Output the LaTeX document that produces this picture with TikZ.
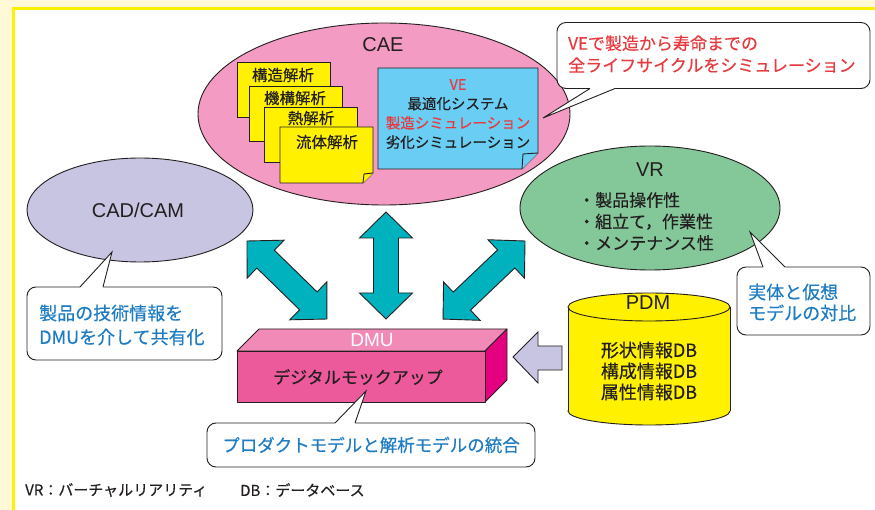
\documentclass[tikz,border=0pt]{standalone}
\usepackage{fontspec}
\setmainfont{Liberation Sans}
\newfontfamily\jp[FakeBold=0.35]{Noto Sans CJK JP}
\usetikzlibrary{shapes.geometric,calc}
\definecolor{bgy}{HTML}{FFF9D6}
\definecolor{framey}{HTML}{FFF100}
\definecolor{ink}{HTML}{231F20}
\definecolor{caepink}{HTML}{F39BC2}
\definecolor{cardy}{HTML}{FFF100}
\definecolor{veblue}{HTML}{6ACDF3}
\definecolor{vered}{HTML}{E83A3E}
\definecolor{cadlav}{HTML}{C8C5E2}
\definecolor{vrgreen}{HTML}{84C89A}
\definecolor{tealc}{HTML}{00B2BE}
\definecolor{dmufront}{HTML}{EC5A9B}
\definecolor{dmutop}{HTML}{F28AB8}
\definecolor{dmuside}{HTML}{E4007F}
\definecolor{txtblue}{HTML}{1E7CC2}
\newcommand\callwedge[4]{%
  \fill[white] ($(#1)+(0,#4)$) -- (#1) -- (#2) -- (#3) -- ($(#3)+(0,#4)$) -- cycle;
  \draw[outl] (#1) -- (#2) -- (#3);}
\newcommand\tealdbl[3]{%
  \begin{scope}[shift={(#1)},rotate=#2]
  \draw[outl,fill=tealc,line join=miter] (0,0) -- (26,26.5) -- (26,12.5) -- (#3,12.5) -- (#3,26.5) -- ({#3+26},0)
    -- (#3,-26.5) -- (#3,-12.5) -- (26,-12.5) -- (26,-26.5) -- cycle;
  \end{scope}}
\begin{document}
\begin{tikzpicture}[x=1pt,y=-1pt,
  outl/.style={draw=ink,line width=0.9pt},
  bubble/.style={ellipse,outl,inner sep=0pt},
  latin/.style={font=\fontsize{20}{24}\selectfont,text=ink,inner sep=0pt},
  jtext/.style={font=\jp\fontsize{17}{22}\selectfont,text=ink,inner sep=0pt},
  cardbox/.style={outl,fill=cardy,minimum width=93pt,minimum height=55pt,inner sep=0pt,anchor=north west},
  cardtext/.style={font=\jp\fontsize{15.5}{19}\selectfont,text=ink,inner sep=0pt},
  callbox/.style={outl,fill=white,rounded corners=9pt,inner sep=0pt},
  calltext/.style={font=\jp\fontsize{18}{24}\selectfont,text=txtblue,inner sep=0pt,align=left,anchor=west}]
\useasboundingbox (0,0) rectangle (875,510);
% background and frame
\fill[bgy] (0,0) rectangle (875,510);
\fill[white] (13.5,8.5) rectangle (875,510);
\draw[framey,line width=3pt] (13.5,510) -- (13.5,8.5) -- (875,8.5);

% ellipses
\node[bubble,fill=cadlav,minimum width=226pt,minimum height=104pt] (cad) at (140,210) {};
\node[bubble,fill=vrgreen,minimum width=260pt,minimum height=124pt] (vr) at (650,208) {};
\node[bubble,fill=caepink,minimum width=372pt,minimum height=182pt] (cae) at (384,114) {};
\node[latin] (caet) at (383,45) {CAE};
\node[latin] (cadt) at (138,210) {CAD/CAM};
\node[latin] (vrt) at (650,170) {VR};
\node[jtext,align=left,anchor=west,font=\jp\fontsize{17}{21.5}\selectfont] (vrlist) at (578,221.5)
  {・製品操作性\\・組立て，作業性\\・メンテナンス性};

% analysis cards
\node[cardbox] (c1) at (237,62) {};
\node[cardbox] (c2) at (249,86) {};
\node[cardbox] (c3) at (264,107) {};
\coordinate (c4nw) at (280,127);
\coordinate (c4ne) at (373,127);
\coordinate (c4a) at (373,173);
\coordinate (c4b) at (363,183);
\coordinate (c4c) at (364,174);
\coordinate (c4sw) at (280,183);
\draw[outl,fill=cardy,line join=round] (c4nw) -- (c4ne) -- (c4a) -- (c4b) -- (c4sw) -- cycle;
\draw[outl,fill=cardy,line join=round] (c4a) -- (c4c) -- (c4b);
\node[cardtext] (c1t) at (283,75) {構造解析};
\node[cardtext] (c2t) at (295,98) {機構解析};
\node[cardtext] (c3t) at (311,118) {熱解析};
\node[cardtext] (c4t) at (327,142) {流体解析};

% VE box
\coordinate (venw) at (378,68);
\coordinate (vene) at (538,68);
\coordinate (vea) at (538,153);
\coordinate (veb) at (522,169);
\coordinate (vec) at (523,154);
\coordinate (vesw) at (378,169);
\draw[outl,fill=veblue,line join=round] (venw) -- (vene) -- (vea) -- (veb) -- (vesw) -- cycle;
\draw[outl,fill=veblue,line join=round] (vea) -- (vec) -- (veb);
\node[jtext,align=center,font=\jp\fontsize{14.5}{19.3}\selectfont] (vet) at (458,114)
  {{\color{vered}VE}\\最適化システム\\{\color{vered}製造シミュレーション}\\劣化シミュレーション};

% teal double arrows
\coordinate (ta1) at (386,212);
\coordinate (ta2) at (247,241);
\coordinate (ta3) at (525,241);
\tealdbl{ta1}{-90}{81}
\tealdbl{ta2}{-44.3}{85.7}
\tealdbl{ta3}{-136.4}{87.2}

% DMU box
\coordinate (dfnw) at (237,351);
\coordinate (dfne) at (485,351);
\coordinate (dfse) at (485,402);
\coordinate (dfsw) at (237,402);
\coordinate (dbnw) at (259,329);
\coordinate (dbne) at (507,329);
\coordinate (dbse) at (507,380);
\draw[outl,fill=dmutop,line join=round] (dfnw) -- (dbnw) -- (dbne) -- (dfne) -- cycle;
\draw[outl,fill=dmuside,line join=round] (dfne) -- (dbne) -- (dbse) -- (dfse) -- cycle;
\draw[outl,fill=dmufront,line join=round] (dfnw) -- (dfne) -- (dfse) -- (dfsw) -- cycle;
\node[latin,text=white,font=\fontsize{19}{23}\selectfont] (dmut) at (372,340) {DMU};
\node[jtext] (dmuj) at (358,377) {デジタルモックアップ};

% PDM cylinder
\draw[outl,fill=cardy] (649,411) ellipse [x radius=81pt,y radius=14pt];
\fill[cardy] (568,307) rectangle (730,411);
\draw[outl] (568,307) -- (568,411);
\draw[outl] (730,307) -- (730,411);
\draw[outl,fill=cardy] (649,307) ellipse [x radius=81pt,y radius=14pt];
\node[latin] (pdmt) at (648,303) {PDM};
\node[jtext,align=center,font=\jp\fontsize{18}{21}\selectfont] (pdmdb) at (649,371)
  {形状情報DB\\構成情報DB\\属性情報DB};

% lavender arrow PDM -> DMU
\coordinate (la0) at (513,357);
\draw[outl,fill=cadlav,line join=miter] (la0) -- (538,332) -- (538,346) -- (562,346) -- (562,370) -- (538,370) -- (538,383) -- cycle;

% callouts
\node[callbox,minimum width=313pt,minimum height=66pt] (cb1) at (713.5,55.5) {};
\coordinate (w1a) at (590,88.5);
\coordinate (w1t) at (543,118);
\coordinate (w1b) at (615,88.5);
\callwedge{w1a}{w1t}{w1b}{-1.3}
\node[calltext,text=vered,font=\jp\fontsize{17}{22}\selectfont] (cb1t) at (568,54)
  {VEで製造から寿命までの\\全ライフサイクルをシミュレーション};

\node[callbox,minimum width=195pt,minimum height=73pt] (cb2) at (124.5,323.5) {};
\coordinate (w2a) at (80,287);
\coordinate (w2t) at (112,252);
\coordinate (w2b) at (103,287);
\callwedge{w2a}{w2t}{w2b}{1.3}
\node[calltext] (cb2t) at (39,325) {製品の技術情報を\\DMUを介して共有化};

\node[callbox,minimum width=133pt,minimum height=68pt] (cb3) at (803.5,301) {};
\coordinate (w3a) at (763,267);
\coordinate (w3t) at (750,232);
\coordinate (w3b) at (785,267);
\callwedge{w3a}{w3t}{w3b}{1.3}
\node[calltext,font=\jp\fontsize{18}{21}\selectfont] (cb3t) at (748,302.5) {実体と仮想\\モデルの対比};

\node[callbox,minimum width=328pt,minimum height=44pt] (cb4) at (371,445) {};
\coordinate (w4a) at (335,423);
\coordinate (w4t) at (366,391);
\coordinate (w4b) at (355,423);
\callwedge{w4a}{w4t}{w4b}{1.3}
\node[jtext,text=txtblue,font=\jp\fontsize{17.5}{22}\selectfont] (cb4t) at (371,445) {プロダクトモデルと解析モデルの統合};

% footnote
\node[jtext,anchor=west,font=\jp\fontsize{15}{18}\selectfont] (fn1) at (25,490) {VR：バーチャルリアリティ};
\node[jtext,anchor=west,font=\jp\fontsize{15}{18}\selectfont] (fn2) at (240,490) {DB：データベース};
\end{tikzpicture}
\end{document}
